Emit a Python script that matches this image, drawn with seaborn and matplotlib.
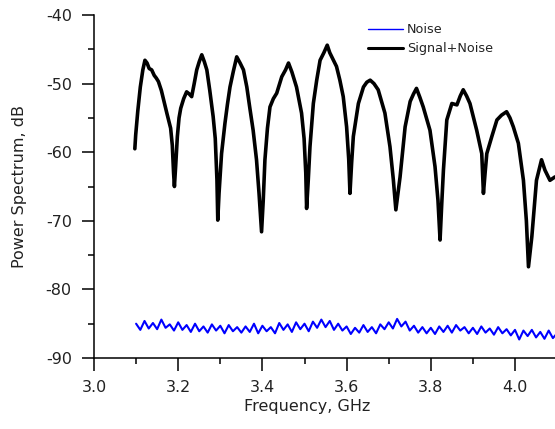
import numpy as np
import pandas as pd
import matplotlib
matplotlib.use("Agg")
import matplotlib.pyplot as plt
import seaborn as sns
from matplotlib.ticker import MultipleLocator, FuncFormatter

# ---------------- data ----------------
sig_freq = [3.097, 3.099, 3.104, 3.110, 3.116, 3.121, 3.126, 3.131, 3.137, 3.143,
            3.148, 3.153, 3.160, 3.167, 3.173, 3.178, 3.182, 3.186, 3.189, 3.191,
            3.194, 3.198, 3.202, 3.206, 3.213, 3.220, 3.226, 3.232, 3.238, 3.244,
            3.250, 3.256, 3.262, 3.268, 3.275, 3.283, 3.288, 3.292, 3.294, 3.297,
            3.303, 3.311, 3.317, 3.323, 3.331, 3.339, 3.347, 3.355, 3.363, 3.370,
            3.378, 3.386, 3.392, 3.398, 3.402, 3.406, 3.412, 3.418, 3.426, 3.434,
            3.446, 3.455, 3.462, 3.470, 3.481, 3.493, 3.499, 3.503, 3.505, 3.509,
            3.513, 3.521, 3.529, 3.537, 3.546, 3.554, 3.560, 3.568, 3.576, 3.584,
            3.592, 3.600, 3.605, 3.608, 3.612, 3.616, 3.628, 3.640, 3.648, 3.656,
            3.665, 3.675, 3.691, 3.703, 3.711, 3.717, 3.722, 3.727, 3.739, 3.751,
            3.759, 3.766, 3.774, 3.782, 3.798, 3.810, 3.817, 3.822, 3.826, 3.830,
            3.838, 3.850, 3.862, 3.870, 3.877, 3.885, 3.893, 3.909, 3.921, 3.925,
            3.929, 3.933, 3.945, 3.957, 3.968, 3.980, 3.988, 3.996, 4.008, 4.020,
            4.027, 4.032, 4.036, 4.040, 4.051, 4.063, 4.071, 4.083, 4.095]
sig_db = [-59.5, -57.5, -54.0, -50.5, -48.0, -46.6, -47.0, -47.8, -48.0, -48.8,
          -49.2, -49.7, -51.0, -52.8, -54.3, -55.5, -56.5, -59.0, -63.0, -65.0,
          -62.0, -57.7, -55.0, -53.6, -52.2, -51.2, -51.5, -51.9, -50.0, -48.0,
          -46.8, -45.8, -46.8, -48.0, -51.0, -54.8, -58.0, -64.0, -69.9, -66.0,
          -60.2, -55.8, -53.0, -50.5, -48.2, -46.1, -47.0, -48.0, -50.5, -53.5,
          -56.8, -61.1, -66.0, -71.6, -67.0, -61.1, -56.5, -53.4, -52.2, -51.4,
          -49.0, -48.0, -47.0, -48.3, -50.5, -54.3, -58.0, -63.0, -68.2, -64.0,
          -59.2, -52.9, -49.5, -46.6, -45.5, -44.4, -45.5, -46.5, -47.5, -49.5,
          -51.9, -56.3, -61.0, -66.0, -61.5, -57.7, -52.9, -50.5, -49.8, -49.5,
          -50.0, -50.9, -54.3, -59.2, -64.0, -68.4, -66.0, -63.6, -56.3, -52.6,
          -51.5, -50.7, -52.0, -53.4, -56.8, -62.1, -67.0, -72.8, -67.5, -62.6,
          -55.3, -52.9, -53.1, -51.8, -50.9, -51.8, -52.9, -56.8, -60.2, -66.0,
          -63.0, -60.2, -57.7, -55.3, -54.6, -54.1, -55.0, -56.3, -58.7, -64.1,
          -70.0, -76.7, -74.5, -72.3, -64.1, -61.1, -62.6, -64.1, -63.6]

noise_freq = [3.10 + 0.01 * i for i in range(101)]
noise_db = [-85.0, -85.9, -84.6, -85.7, -84.9, -85.8, -84.4, -85.6, -85.1, -86.0,
            -84.8, -85.9, -85.2, -86.2, -85.0, -86.1, -85.4, -86.3, -85.1, -86.0,
            -85.3, -86.4, -85.2, -86.1, -85.5, -86.3, -85.4, -86.2, -85.0, -86.4,
            -85.3, -86.1, -85.5, -86.4, -84.9, -85.9, -85.1, -86.2, -84.8, -85.8,
            -85.0, -86.1, -84.7, -85.6, -84.4, -85.5, -84.6, -85.9, -85.0, -86.0,
            -85.4, -86.5, -85.6, -86.3, -85.2, -86.2, -85.5, -86.4, -85.1, -85.8,
            -84.8, -85.7, -84.3, -85.4, -84.7, -86.0, -85.3, -86.3, -85.5, -86.4,
            -85.6, -86.5, -85.4, -86.2, -85.3, -86.3, -85.2, -86.0, -85.5, -86.4,
            -85.6, -86.5, -85.4, -86.3, -85.7, -86.6, -85.5, -86.4, -85.8, -86.7,
            -85.9, -87.3, -86.0, -86.8, -85.9, -87.0, -86.2, -87.2, -86.0, -87.1,
            -86.4]

x_ticks = [3.0, 3.2, 3.4, 3.6, 3.8, 4.0]
y_ticks = [-90, -80, -70, -60, -50, -40]

# ---------------- plot ----------------
sns.set_style("ticks")
plt.rcParams['font.family'] = ['DejaVu Sans']

fig = plt.figure(figsize=(5.55, 4.29), dpi=100)
ax = fig.add_axes([94 / 555, 1 - 358 / 429, 1 - 94 / 555, (358 - 15) / 429])

noise_df = pd.DataFrame({"f": noise_freq, "p": noise_db})
sig_df = pd.DataFrame({"f": sig_freq, "p": sig_db})

sns.lineplot(data=noise_df, x="f", y="p", ax=ax, color="#0000ff", lw=1.5,
             label="Noise", sort=False, estimator=None)
sns.lineplot(data=sig_df, x="f", y="p", ax=ax, color="black", lw=2.6,
             label="Signal+Noise", sort=False, estimator=None)

ax.set_xlim(3.0, 4.095)
ax.set_ylim(-90, -40)
ax.set_xticks(x_ticks)
ax.set_yticks(y_ticks)
ax.xaxis.set_minor_locator(MultipleLocator(0.1))
ax.yaxis.set_minor_locator(MultipleLocator(5))
ax.xaxis.set_major_formatter(FuncFormatter(lambda v, p: f"{v:.1f}"))
ax.yaxis.set_major_formatter(FuncFormatter(lambda v, p: f"-{abs(int(round(v)))}"))

for s in ["top", "right"]:
    ax.spines[s].set_visible(False)
for s in ["left", "bottom"]:
    ax.spines[s].set_color("black")
    ax.spines[s].set_linewidth(1.1)

ax.tick_params(which="major", direction="out", length=9, width=1.1,
               colors="black", labelsize=11.5, pad=7)
ax.tick_params(which="minor", direction="out", length=4.5, width=1.1,
               colors="black")
for lbl in ax.get_xticklabels() + ax.get_yticklabels():
    lbl.set_color("#222222")

ax.set_xlabel("Frequency, GHz", fontsize=11.5, color="#222222")
ax.set_ylabel("Power Spectrum, dB", fontsize=11.5, color="#222222")
ax.xaxis.set_label_coords((307 - 94) / (555 - 94), -(407 - 358) / (358 - 15), transform=ax.transAxes)
ax.xaxis.label.set_va("center")
ax.yaxis.set_label_coords(-(94 - 20) / (555 - 94), 0.5)
ax.yaxis.label.set_va("center")

leg = ax.legend(loc="upper left", bbox_to_anchor=(368 / 555, 1 - 23 / 429),
                bbox_transform=fig.transFigure, frameon=False, fontsize=9.2,
                handlelength=2.7, handletextpad=0.35, borderpad=0,
                labelspacing=0.5, borderaxespad=0)
for t in leg.get_texts():
    t.set_color("#222222")
leg.legend_handles[0].set_linewidth(1.0)
leg.legend_handles[1].set_linewidth(2.2)

fig.savefig("out.png", dpi=100)
